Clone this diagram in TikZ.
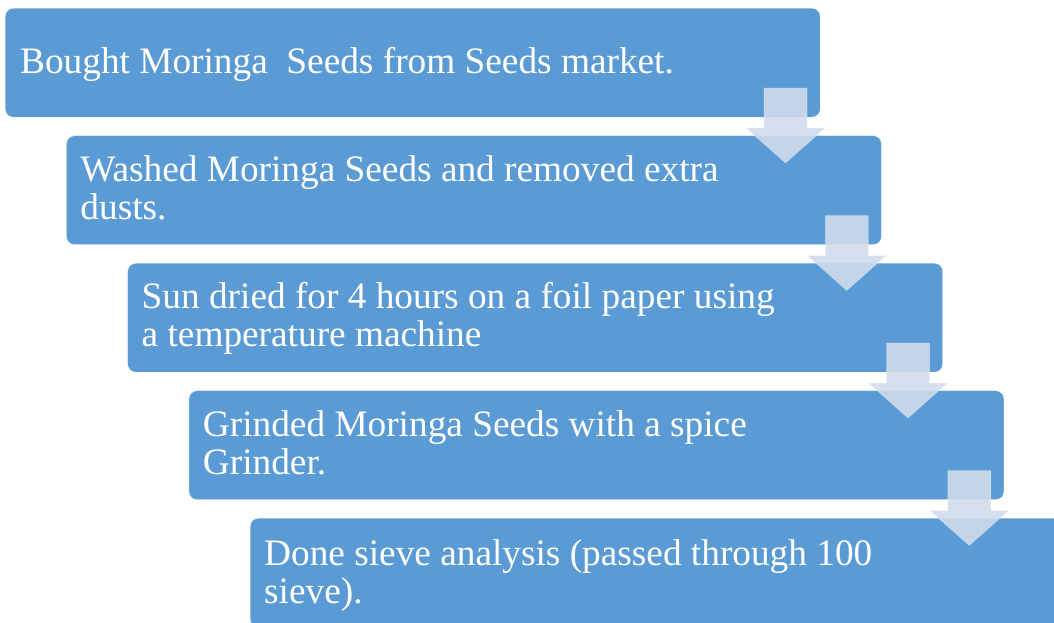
\documentclass[tikz,border=0pt]{standalone}
\usepackage{fontspec}
\setmainfont{Liberation Serif}
\usetikzlibrary{calc}
\definecolor{boxblue}{RGB}{91,155,213}
\definecolor{arrowfill}{RGB}{209,220,236}
\newcommand{\stepfont}{\fontsize{37.3}{38.3}\selectfont}
\tikzset{
  stepbox/.style={draw=white, line width=0.4pt, fill=boxblue, rounded corners=8pt,
    minimum width=815pt, minimum height=109pt, inner sep=0pt, anchor=north west},
  steptext/.style={text=white, font=\stepfont, align=left,
    text width=760pt, inner sep=0pt, anchor=base west,
    execute at begin node={\spaceskip=0.25em plus 0.1em minus 0.05em\xspaceskip=0.25em\relax}},
  downarrow/.style={fill=arrowfill, fill opacity=0.9, draw=white, draw opacity=0.25, line width=0.6pt}
}
\newcommand{\downarr}[1]{%
  \path[downarrow] ($(#1)+(-21.5,0)$) -- ($(#1)+(21.5,0)$) -- ($(#1)+(21.5,40)$)
    -- ($(#1)+(39.5,40)$) -- ($(#1)+(0,75)$) -- ($(#1)+(-39.5,40)$)
    -- ($(#1)+(-21.5,40)$) -- cycle;}
\begin{document}
\begin{tikzpicture}[x=1pt,y=-1pt]
\useasboundingbox (0,0) rectangle (1054,622);
\clip (0,0) rectangle (1054,622);
% boxes
\node[stepbox] (b1) at (5,8) {};
\node[stepbox] (b2) at (66.25,135.5) {};
\node[stepbox] (b3) at (127.5,263) {};
\node[stepbox] (b4) at (188.75,390.5) {};
\node[stepbox] (b5) at (250,518) {};
% texts
\node[steptext] (t1) at ($(b1.north west)+(15,65)$) {Bought Moringa\ \ Seeds from Seeds market.};
\node[steptext] (t2) at ($(b2.north west)+(14,46)$) {Washed Moringa Seeds and removed extra\\dusts.};
\node[steptext] (t3) at ($(b3.north west)+(14,45)$) {Sun dried for 4 hours on a foil paper using\\a temperature machine};
\node[steptext] (t4) at ($(b4.north west)+(14,46)$) {Grinded Moringa Seeds with a spice\\Grinder.};
\node[steptext] (t5) at ($(b5.north west)+(14,47)$) {Done sieve analysis (passed through 100\\sieve).};
% arrows
\coordinate (a1) at (785.5,88);
\coordinate (a2) at (846.75,215.5);
\coordinate (a3) at (908,343);
\coordinate (a4) at (969.25,470.5);
\downarr{a1}
\downarr{a2}
\downarr{a3}
\downarr{a4}
\end{tikzpicture}
\end{document}
